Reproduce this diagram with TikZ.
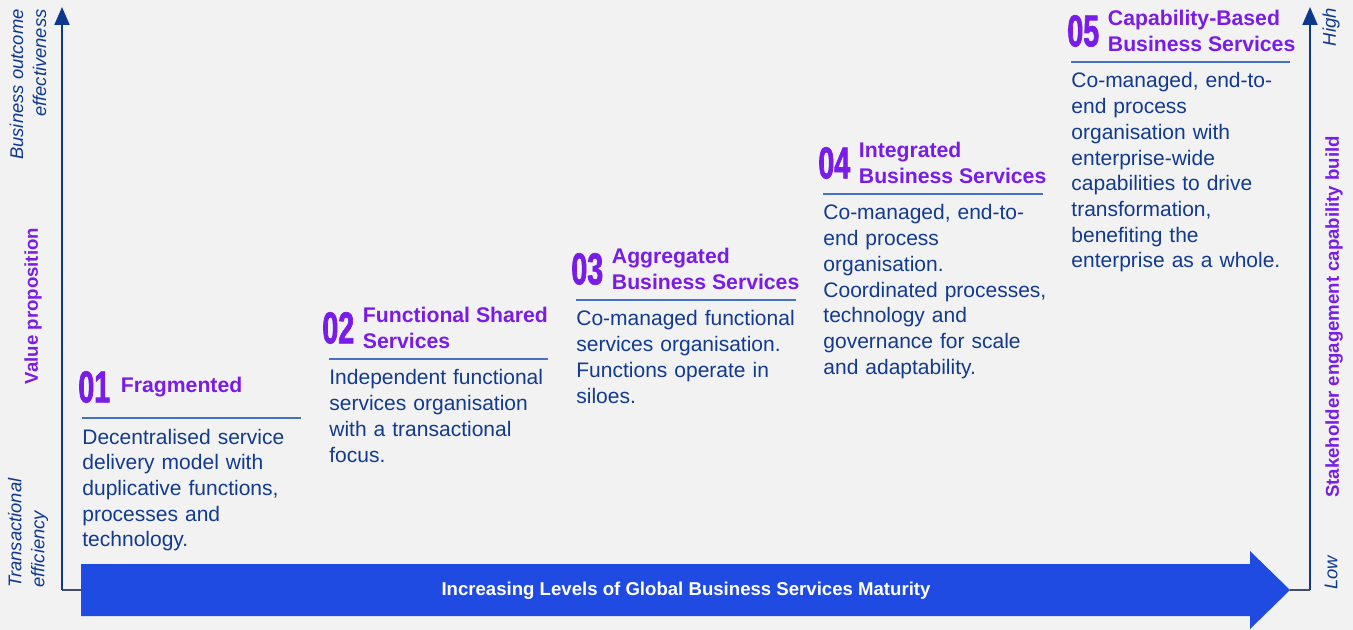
\documentclass[tikz,border=0pt]{standalone}
\usepackage{fontspec}
\setmainfont{Liberation Sans}
\newfontfamily\stagedigits{Liberation Sans}[FakeStretch=0.64, BoldFeatures={FakeBold=1.6}]
\usetikzlibrary{arrows.meta,positioning}

\definecolor{bggrey}{RGB}{242,242,242}
\definecolor{axisnavy}{RGB}{14,56,142}
\definecolor{basegrey}{RGB}{62,78,104}
\definecolor{bodyblue}{RGB}{18,58,142}
\definecolor{stagepurple}{RGB}{122,28,232}
\definecolor{ruleblue}{RGB}{68,114,196}
\definecolor{maturityblue}{RGB}{32,75,226}

\tikzset{
	axis/.style={axisnavy, line width=1pt, -{Triangle[length=9pt,width=7.5pt]}},
	baseline/.style={basegrey, line width=1pt},
	sidenote/.style={inner sep=0pt, text=axisnavy, font=\fontsize{9.2}{11.5}\selectfont\itshape},
	axistitle/.style={inner sep=0pt, text=stagepurple, font=\fontsize{9.3}{11}\selectfont\bfseries},
	stagenum/.style={anchor=west, inner sep=0pt, text=stagepurple, font=\stagedigits\fontsize{22.3}{22}\selectfont\bfseries},
	stagetitle/.style={inner sep=0pt, align=left, text=stagepurple, font=\fontsize{10.6}{12.6}\selectfont\bfseries},
	stagebody/.style={anchor=base west, inner sep=0pt, text width=125pt, align=left, text=bodyblue, font=\fontsize{10.5}{12.85}\selectfont},
	stagerule/.style={ruleblue, line width=0.75pt}
}

\begin{document}
\begin{tikzpicture}[x=0.5pt,y=-0.5pt]
	\fill[bggrey] (0,0) rectangle (1353,630);
	\useasboundingbox (0,0) rectangle (1353,630);

	% maturity arrow along the bottom
	\fill[maturityblue] (81,564) -- (1250,564) -- (1250,551) -- (1290,590) -- (1250,629) -- (1250,616) -- (81,616) -- cycle;
	\coordinate (tail) at (81,590);
	\coordinate (tip) at (1290,590);
	\node[text=white, font=\fontsize{9.3}{11}\selectfont\bfseries] (maturity) at (686,591) {Increasing Levels of Global Business Services Maturity};

	% the two axes
	\coordinate (lorigin) at (62,590);
	\coordinate (ltop) at (62,7);
	\coordinate (rorigin) at (1310,590);
	\coordinate (rtop) at (1310,7);
	\draw[baseline] (tail) -- (lorigin);
	\draw[baseline] (tip) -- (rorigin);
	\draw[axis] (lorigin) -- (ltop);
	\draw[axis] (rorigin) -- (rtop);

	\node[sidenote, rotate=90, anchor=east, align=right] (outcome) at (28,9) {Business outcome\\effectiveness};
	\node[axistitle, rotate=90] (valueprop) at (33,306) {Value proposition};
	\node[sidenote, rotate=90, anchor=west, align=left] (efficiency) at (28,588) {Transactional\\efficiency};
	\node[sidenote, rotate=90, anchor=east] (high) at (1331,8) {High};
	\node[axistitle, rotate=90] (stakeholder) at (1334,317) {Stakeholder engagement capability build};
	\node[sidenote, rotate=90, anchor=west] (low) at (1331,590) {Low};

	% stage 01
	\node[stagenum] (num1) at (78,387) {01};
	\node[stagetitle, right=5pt of num1] (title1) {Fragmented};
	\draw[stagerule] (82,418) -- (301,418);
	\node[stagebody] (body1) at (82,444) {Decentralised service\\delivery model with\\duplicative functions,\\processes and\\technology.};

	% stage 02
	\node[stagenum] (num2) at (322,328) {02};
	\node[stagetitle, right=4pt of num2] (title2) {Functional Shared\\Services};
	\draw[stagerule] (329,359) -- (548,359);
	\node[stagebody] (body2) at (329,385) {Independent functional\\services organisation\\with a transactional\\focus.};

	% stage 03
	\node[stagenum] (num3) at (571,269) {03};
	\node[stagetitle, right=4pt of num3] (title3) {Aggregated\\Business Services};
	\draw[stagerule] (576,300) -- (796,300);
	\node[stagebody] (body3) at (576,326) {Co-managed functional\\services organisation.\\Functions operate in\\siloes.};

	% stage 04
	\node[stagenum] (num4) at (818,163) {04};
	\node[stagetitle, right=4pt of num4] (title4) {Integrated\\Business Services};
	\draw[stagerule] (823,194) -- (1043,194);
	\node[stagebody] (body4) at (823,220) {Co-managed, end-to-\\end process\\organisation.\\Coordinated processes,\\technology and\\governance for scale\\and adaptability.};

	% stage 05
	\node[stagenum] (num5) at (1067,31) {05};
	\node[stagetitle, right=4pt of num5] (title5) {Capability-Based\\Business Services};
	\draw[stagerule] (1071,62) -- (1290,62);
	\node[stagebody] (body5) at (1071,88) {Co-managed, end-to-\\end process\\organisation with\\enterprise-wide\\capabilities to drive\\transformation,\\benefiting the\\enterprise as a whole.};
\end{tikzpicture}
\end{document}
